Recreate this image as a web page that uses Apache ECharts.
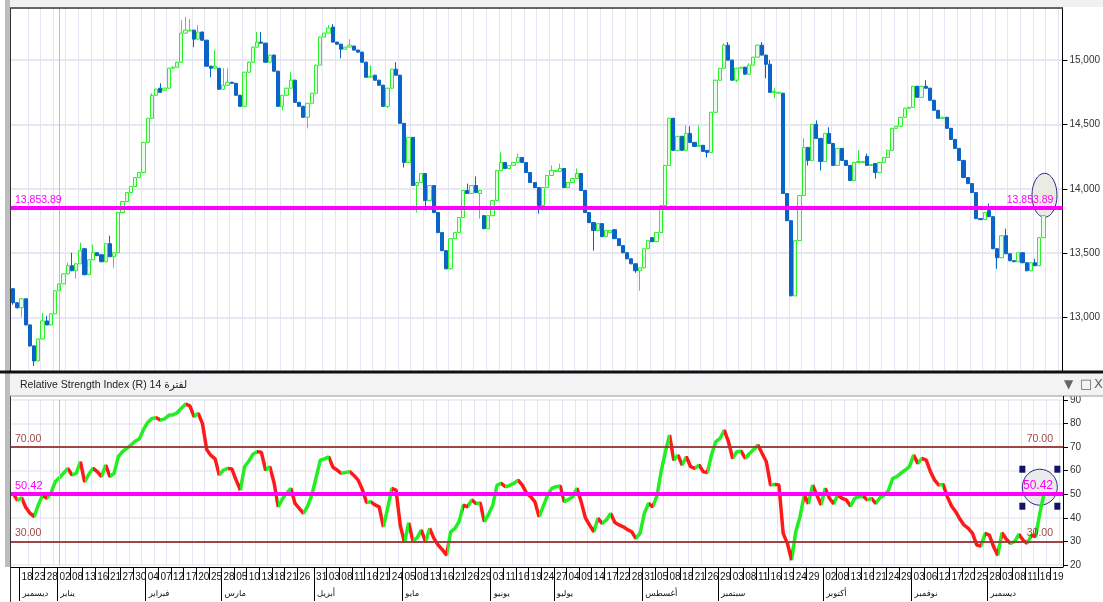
<!DOCTYPE html>
<html><head><meta charset="utf-8">
<script src="https://cdn.jsdelivr.net/npm/echarts@6/dist/echarts.min.js"></script>
<style>html,body{margin:0;padding:0;background:#fff;}#c{width:1103px;height:602px;}</style>
</head><body><div id="c"></div>
<script>
// ---------- data ----------
const opens = [13224,13115,13076,13146,12943,12780,12663,12834,12974,12943,
13029,13208,13262,13340,13403,13364,13418,13535,13333,13449,
13504,13488,13434,13574,13473,13504,13816,13901,13971,14018,
14088,14127,14361,14548,14727,14782,14766,14782,14937,14945,
14984,15210,15226,15233,15163,15218,15155,14953,14937,14937,
14774,14805,14828,14820,14727,14641,14906,14984,15101,15140,
15132,14984,15039,14914,14641,14727,14782,14844,14672,14641,
14556,14665,14743,14961,15179,15210,15257,15140,15124,15085,
15101,15109,15078,15062,14984,14867,14883,14844,14805,14641,
14782,14930,14883,14509,14205,14400,14026,14049,14119,13909,
14026,13816,13660,13520,13379,13613,13660,13777,13987,13964,
14026,13964,13792,13691,13792,13909,14143,14205,14158,14182,
14205,14244,14205,14127,14049,14010,13870,14010,14104,14135,
14135,14158,14010,14049,14080,14119,13987,13816,13738,13676,
13730,13629,13660,13683,13613,13559,13504,13457,13418,13364,
13387,13535,13621,13590,13660,13870,14182,14548,14299,14408,
14299,14431,14361,14330,14338,14299,14283,14595,14844,14937,
15116,15000,14844,14937,14945,14891,14961,15023,15116,15039,
14968,14750,14743,14743,13964,13753,13169,13598,13948,14322,
14221,14501,14392,14213,14431,14353,14182,14314,14221,14182,
14065,14205,14205,14252,14182,14197,14127,14205,14244,14299,
14470,14486,14556,14626,14633,14797,14711,14797,14782,14688,
14610,14548,14556,14470,14384,14314,14221,14088,14041,13971,
13769,13761,13831,13784,13535,13465,13636,13496,13442,13434,
13504,13426,13364,13426,13403,13621];
const closes = [13115,13076,13146,12943,12780,12663,12834,12974,12943,13029,
13208,13262,13340,13403,13364,13418,13520,13333,13449,13504,
13481,13434,13574,13473,13504,13816,13901,13971,14018,14088,
14127,14361,14548,14727,14774,14750,14782,14937,14945,14984,
15210,15233,15233,15163,15218,15155,14953,14937,14953,14774,
14805,14828,14820,14727,14641,14906,14984,15101,15140,15132,
14984,15039,14914,14641,14727,14782,14844,14672,14641,14556,
14665,14743,14961,15179,15210,15249,15140,15124,15085,15101,
15116,15078,15062,14984,14867,14875,14844,14805,14641,14782,
14930,14883,14509,14205,14400,14026,14049,14119,13909,14026,
13816,13660,13520,13379,13613,13660,13777,13987,13964,14026,
13971,13987,13691,13792,13909,14143,14205,14158,14182,14205,
14244,14205,14127,14049,14010,13870,14010,14104,14143,14143,
14158,14010,14049,14080,14119,13987,13816,13738,13676,13730,
13629,13676,13676,13613,13559,13504,13457,13418,13364,13387,
13535,13598,13590,13660,13870,14182,14548,14299,14408,14299,
14431,14361,14330,14338,14291,14283,14595,14844,14937,15116,
15000,14844,14937,14945,14891,14961,15023,15116,15039,14968,
14750,14758,14750,13964,13753,13169,13598,13948,14322,14221,
14501,14392,14213,14431,14353,14182,14314,14221,14182,14065,
14205,14213,14213,14182,14189,14127,14205,14244,14299,14470,
14486,14556,14626,14633,14797,14711,14797,14782,14688,14610,
14548,14556,14470,14384,14314,14221,14088,14041,13971,13769,
13761,13816,13784,13535,13465,13636,13496,13442,13434,13504,
13426,13364,13426,13403,13621,13792];
const lows = [13100,13070,13005,12940,12775,12624,12660,12830,12940,12940,
13025,13205,13260,13335,13360,13301,13415,13330,13330,13445,
13478,13430,13430,13470,13387,13500,13812,13898,13968,14015,
14085,14125,14358,14545,14724,14746,14763,14780,14934,14942,
14980,15205,15222,15101,15160,15152,14950,14867,14934,14770,
14770,14800,14816,14724,14638,14638,14903,14980,15098,15128,
14980,14980,14910,14638,14610,14724,14780,14668,14638,14552,
14470,14662,14740,14958,15175,15206,15136,15120,15015,15082,
15098,15074,15058,14980,14863,14863,14840,14801,14638,14626,
14778,14880,14505,14166,14202,14022,13816,14046,13831,13905,
13812,13656,13516,13375,13375,13610,13656,13774,13960,13960,
13968,13769,13687,13687,13788,13905,14140,14155,14155,14178,
14202,14202,14124,14046,14006,13808,13831,14006,14100,14132,
14132,14006,14006,14046,14076,13983,13812,13734,13520,13672,
13625,13625,13656,13610,13555,13500,13453,13414,13348,13208,
13383,13532,13586,13586,13656,13866,14178,14295,14295,14295,
14295,14357,14326,14326,14287,14244,14280,14592,14840,14934,
14996,14840,14828,14934,14887,14887,14958,15020,15035,14859,
14746,14704,14740,13960,13749,13165,13165,13594,13944,14182,
14217,14388,14143,14210,14349,14178,14178,14217,14178,14061,
14061,14202,14202,14178,14178,14080,14124,14202,14240,14295,
14466,14482,14552,14622,14630,14708,14708,14778,14684,14606,
14544,14544,14466,14380,14310,14217,14084,14037,13967,13765,
13757,13757,13780,13531,13379,13461,13492,13438,13430,13430,
13422,13360,13360,13399,13399,13617];
const highs = [13230,13120,13150,13150,12945,12785,12840,13037,13013,13035,
13210,13286,13345,13426,13504,13420,13582,13540,13450,13566,
13506,13490,13578,13636,13506,13820,13905,13975,14020,14092,
14130,14365,14552,14743,14778,14820,14785,14940,14950,14988,
15311,15335,15320,15236,15272,15222,15158,14956,15078,14940,
14937,14937,14832,14823,14730,14910,14988,15105,15218,15218,
15135,15043,15043,14918,14730,14785,14906,14848,14675,14645,
14668,14746,14965,15183,15214,15272,15280,15143,15128,15104,
15163,15112,15082,15066,14988,14961,14886,14848,14808,14785,
14933,14984,14886,14512,14403,14403,14052,14122,14122,14030,
14030,13820,13664,13524,13616,13664,13780,13990,14041,14030,
14096,13990,13796,13796,13912,14146,14283,14208,14185,14208,
14275,14248,14208,14130,14052,14014,14014,14108,14182,14146,
14197,14162,14052,14084,14158,14122,13990,13820,13742,13734,
13734,13680,13680,13687,13616,13562,13508,13460,13421,13390,
13538,13602,13624,13664,13874,14185,14552,14552,14412,14412,
14493,14486,14364,14493,14342,14302,14598,14848,14940,15132,
15140,15004,14940,14948,14948,14976,15026,15120,15140,15043,
15000,14782,14754,14746,13968,13757,13602,13952,14392,14326,
14505,14532,14396,14435,14478,14357,14318,14318,14225,14185,
14208,14299,14216,14275,14193,14200,14208,14248,14302,14474,
14490,14560,14630,14637,14800,14800,14800,14844,14785,14692,
14614,14560,14560,14474,14388,14318,14225,14092,14045,13975,
13773,13820,13886,13788,13539,13640,13691,13500,13446,13508,
13508,13430,13430,13457,13625,13796];
const rsi = [50.4,47.5,48.5,44.5,42,40.5,45.5,49.7,48.3,50.5,
55.3,57,59,61,58.2,58.9,63.8,55.3,58.5,61,
59.6,57.5,62.4,57.5,58.9,66,68.1,69.5,70.9,72.5,
73.5,77.5,80.5,82.2,82.5,81.5,82,83.5,83.7,84.6,
86.5,88.3,87.5,83,84.3,80,69,66.5,65,58.2,
60.3,61,60.7,56,51.8,61.7,64,67,68.1,67.8,
60.3,61.7,55,44.7,48,50.5,52.5,46.1,44,41.9,
45,49.7,57,64.5,65,65.9,61.5,60.3,58.9,59.3,
59.6,58,56,52,46.5,46.8,45.5,44.7,36.2,44,
52.5,51.8,36.9,29.5,37.9,30.3,31.5,34.8,29.9,35.5,
31.3,28.5,26.5,24.2,34.1,35.5,38.5,45.4,44.7,47.6,
46.1,46.3,38.4,41.5,45.4,53.9,54.6,53.2,53.8,54.6,
56,53.9,50.5,49,46.8,40.5,45,49.5,52.5,53.2,
53.5,46.8,47.8,49,52.5,46.8,40,36.9,34.1,39.8,
37.7,39.1,41.9,38,37,36.2,35,34.1,31.3,33.4,
41.9,46.1,44.7,49.2,59.6,68,75.1,64.5,66.6,62.4,
65.9,61.7,61,62.4,59.6,59.2,67,72.3,73.7,77.2,
72.3,65.2,68.1,68.3,65.2,67.3,69,70.9,67.3,63.8,
53.9,54.2,53.9,33.4,29.2,22.1,34.1,40.5,49.7,46,
53.9,49.7,45.5,52.5,48.3,46,49.7,48.3,47.6,45,
48.3,49,49.2,47.6,48.3,46.1,48.5,49.7,51.5,56.7,
57.5,59,60.3,61.7,66.6,63.1,65.2,64.5,59.6,56,
53.9,54.2,49,45,42.6,39.5,36.9,35.5,33.4,28.5,
28,33.4,32.7,27.8,24.2,33.7,31,29.2,29.9,33,
30.6,29.2,32.7,32,42,50.42];
const dayLabels = ['18','23','28','02','08','13','16','21','27','30','04','07','12','17','20','25','28','05','10','13','18','21','26','31','03','08','11','16','21','24','05','08','13','16','21','26','29','03','11','16','19','24','27','04','09','14','17','22','28','31','05','08','18','21','26','29','03','08','11','16','19','24','29','02','08','13','16','21','24','29','03','06','12','17','20','25','28','03','08','11','16','19'];
const monthNames = ['ديسمبر','يناير','فبراير','مارس','أبريل','مايو','يونيو','يوليو','أغسطس','سبتمبر','أكتوبر','نوفمبر','ديسمبر'];
const monthAtLabel = [0,3,10,16,23,30,37,42,49,55,63,70,76];
const priceTicks = [13000,13500,14000,14500,15000];
const rsiMin = 20, rsiMax = 90, rsiStep = 10;
const pivotPrice = 13853.89;
const pivotRsi = 50.42;
const rsiHigh = 70, rsiLow = 30;

// ---------- layout helpers ----------
const N = closes.length;
const M = N + 4;                          // empty slots on the right
const cats = Array.from({length: M}, (_, i) => String(i));
const bounds = Array.from({length: M + 1}, (_, i) => String(i));   // band boundaries
const candleData = closes.map((c, i) => [opens[i], c, lows[i], highs[i]]);
const labelCat = dayLabels.map((_, k) => Math.round(1.93 + 3.025 * k));
const labelMap = {}; labelCat.forEach((c, k) => { labelMap[c] = dayLabels[k]; });
const monthMap = {}; monthAtLabel.forEach((k, m) => { monthMap[labelCat[k]] = monthNames[m]; });
const gridCat = new Set(labelCat.map(c => c + 2));
const yearCat = labelCat[3];

const GREEN = '#22ee22', RED = '#ff1a1a', MAG = '#ff00ff';
const pieces = [];
let start = 0, dir = rsi[1] >= rsi[0];
for (let i = 1; i < rsi.length - 1; i++) {
  const d = rsi[i + 1] >= rsi[i];
  if (d !== dir) { pieces.push({gte: start, lt: i, color: dir ? GREEN : RED}); start = i; dir = d; }
}
pieces.push({gte: start, lte: M, color: dir ? GREEN : RED});

const FONT = "'Liberation Sans',Arial,sans-serif";
const fmt2 = v => v.toLocaleString('en-US', {minimumFractionDigits: 2, maximumFractionDigits: 2});
const isLabel = (i) => Object.prototype.hasOwnProperty.call(labelMap, i);
const isMonth = (i) => Object.prototype.hasOwnProperty.call(monthMap, i);

const gridLine = {show: true, interval: (i) => gridCat.has(i), lineStyle: {color: '#e4e4f3', width: 1}};
const hidden = {show: false};

const chart = echarts.init(document.getElementById('c'));
const option = {
  animation: false,
  backgroundColor: '#ffffff',
  grid: [
    {left: 11, right: 40, top: 8, height: 363},
    {left: 11, right: 40, top: 400, height: 165}
  ],
  xAxis: [
    {gridIndex: 0, type: 'category', position: 'bottom', data: cats, boundaryGap: true,
     axisLine: hidden, axisTick: hidden, axisLabel: hidden, splitLine: gridLine},
    // day labels
    {gridIndex: 1, type: 'category', position: 'bottom', data: cats, boundaryGap: true, offset: 2,
     axisLine: {show: true, lineStyle: {color: '#000', width: 1}},
     axisTick: hidden,
     axisLabel: {interval: (i) => isLabel(i), align: 'left', margin: 5,
       formatter: (v) => labelMap[Number(v)], fontSize: 10, fontFamily: FONT, color: '#111'},
     splitLine: gridLine},
    // short ticks on band boundaries
    {gridIndex: 1, type: 'category', position: 'bottom', data: bounds, boundaryGap: false, offset: 2,
     axisLine: hidden, axisLabel: hidden,
     axisTick: {show: true, interval: (i) => isLabel(i), length: 13, lineStyle: {color: '#000'}}},
    // month separators + month names
    {gridIndex: 1, type: 'category', position: 'bottom', data: bounds, boundaryGap: false, offset: 2,
     axisLine: hidden,
     axisTick: {show: true, interval: (i) => isMonth(i), length: 34, lineStyle: {color: '#000'}},
     axisLabel: {interval: (i) => isMonth(i), align: 'left', margin: 22, padding: [0, 0, 0, 3],
       formatter: (v) => monthMap[Number(v)], fontSize: 8.5, fontFamily: 'DejaVu Sans', color: '#111'}}
  ],
  yAxis: [
    {gridIndex: 0, type: 'value', position: 'right', min: 12585, max: 15405, scale: true,
     axisLine: {show: true, lineStyle: {color: '#000'}},
     axisTick: {show: true, length: 5, customValues: priceTicks, lineStyle: {color: '#000'}},
     axisLabel: {customValues: priceTicks, margin: 7, color: '#333', fontSize: 10, fontFamily: FONT},
     splitLine: {show: true, lineStyle: {color: '#e8e8f5', width: 2}}},
    {gridIndex: 1, type: 'value', position: 'right', min: rsiMin, max: rsiMax, interval: rsiStep,
     axisLine: {show: true, lineStyle: {color: '#000'}},
     axisTick: {show: true, length: 5, lineStyle: {color: '#000'}},
     axisLabel: {margin: 7, color: '#333', fontSize: 10, fontFamily: FONT},
     splitLine: {show: true, lineStyle: {color: '#e8e8f5', width: 1.5}}}
  ],
  visualMap: [{type: 'piecewise', show: false, seriesIndex: 1, dimension: 0, pieces: pieces, outOfRange: {color: GREEN}}],
  series: [
    {type: 'candlestick', xAxisIndex: 0, yAxisIndex: 0, data: candleData, barWidth: '88%', z: 3,
     itemStyle: {color: '#e6ffe6', color0: '#0a64c8', borderColor: '#2af02a', borderColor0: '#0a64c8', borderWidth: 1},
     markLine: {symbol: 'none', silent: true, animation: false,
       data: [
         {xAxis: yearCat, lineStyle: {color: '#f4b26c', width: 1, type: 'solid'}, label: {show: false}},
         {yAxis: pivotPrice, lineStyle: {color: MAG, width: 4, type: 'solid'},
          label: {show: true, position: 'insideStartTop', formatter: fmt2(pivotPrice), color: MAG, fontSize: 10.5, fontFamily: FONT, distance: [4, 2]}},
         {yAxis: pivotPrice, lineStyle: {color: MAG, width: 4, type: 'solid'},
          label: {show: true, position: 'insideEndTop', formatter: fmt2(pivotPrice), color: MAG, fontSize: 10.5, fontFamily: FONT, distance: [9, 2]}}
       ]}},
    {type: 'line', xAxisIndex: 1, yAxisIndex: 1, data: rsi, showSymbol: false, z: 4,
     lineStyle: {width: 3.5}},
    {type: 'line', xAxisIndex: 1, yAxisIndex: 1, data: [], z: 2,
     markLine: {symbol: 'none', silent: true, animation: false,
       data: [
         {xAxis: yearCat, lineStyle: {color: '#f4b26c', width: 1, type: 'solid'}, label: {show: false}},
         {yAxis: rsiHigh, lineStyle: {color: '#9b3a3a', width: 1.5, type: 'solid'},
          label: {show: true, position: 'insideStartTop', formatter: fmt2(rsiHigh), color: '#a04848', fontSize: 10.5, fontFamily: FONT, distance: [4, 3]}},
         {yAxis: rsiHigh, lineStyle: {color: '#9b3a3a', width: 1.5, type: 'solid'},
          label: {show: true, position: 'insideEndTop', formatter: fmt2(rsiHigh), color: '#a04848', fontSize: 10.5, fontFamily: FONT, distance: [10, 3]}},
         {yAxis: rsiLow, lineStyle: {color: '#9b3a3a', width: 1.5, type: 'solid'},
          label: {show: true, position: 'insideStartTop', formatter: fmt2(rsiLow), color: '#a04848', fontSize: 10.5, fontFamily: FONT, distance: [4, 3]}},
         {yAxis: rsiLow, lineStyle: {color: '#9b3a3a', width: 1.5, type: 'solid'},
          label: {show: true, position: 'insideEndTop', formatter: fmt2(rsiLow), color: '#a04848', fontSize: 10.5, fontFamily: FONT, distance: [10, 3]}},
         {yAxis: pivotRsi, lineStyle: {color: MAG, width: 4, type: 'solid'},
          label: {show: true, position: 'insideStartTop', formatter: fmt2(pivotRsi), color: MAG, fontSize: 11, fontFamily: FONT, distance: [4, 2]}},
         {yAxis: pivotRsi, lineStyle: {color: MAG, width: 4, type: 'solid'},
          label: {show: true, position: 'insideEndTop', formatter: fmt2(pivotRsi), color: MAG, fontSize: 12, fontFamily: FONT, distance: [10, 2]}}
       ]}}
  ]
};
chart.setOption(option);

// ---------- decorations (frames, header, annotation ellipses) ----------
const eTop = chart.convertToPixel({gridIndex: 0}, [N - 1, 13950]);
const eRsi = chart.convertToPixel({gridIndex: 1}, [N - 2, 53]);
const sq = (x, y) => ({type: 'rect', z: 5, shape: {x: x - 3, y: y - 3, width: 6, height: 7}, style: {fill: '#141466'}});
chart.setOption({graphic: [
  {type: 'rect', z: 0, shape: {x: 10, y: 0, width: 1093, height: 7}, style: {fill: '#f1f1f1'}},
  {type: 'rect', z: 0, shape: {x: 5, y: 0, width: 5, height: 567}, style: {fill: '#bdbdbd'}},
  {type: 'line', z: 10, shape: {x1: 10, y1: 8, x2: 1063, y2: 8}, style: {stroke: '#333', lineWidth: 1.5}},
  {type: 'line', z: 10, shape: {x1: 10.5, y1: 8, x2: 10.5, y2: 602}, style: {stroke: '#333', lineWidth: 1}},
  {type: 'rect', z: 10, shape: {x: 10, y: 373, width: 1093, height: 23}, style: {fill: '#f2f3f5'}},
  {type: 'line', z: 11, shape: {x1: 0, y1: 372, x2: 1103, y2: 372}, style: {stroke: '#111', lineWidth: 3}},
  {type: 'line', z: 11, shape: {x1: 10, y1: 396, x2: 1103, y2: 396}, style: {stroke: '#9a9a9a', lineWidth: 1}},
  {type: 'line', z: 11, shape: {x1: 1063.5, y1: 396, x2: 1063.5, y2: 567}, style: {stroke: '#000', lineWidth: 1}},
  {type: 'text', z: 12, x: 20, y: 385, style: {text: 'Relative Strength Index (R) 14 لفترة', fill: '#222', font: "10.5px 'Liberation Sans','DejaVu Sans',sans-serif", verticalAlign: 'middle'}},
  {type: 'text', z: 12, x: 1064, y: 385, style: {text: '▼', fill: '#666', font: "12px 'DejaVu Sans'", verticalAlign: 'middle'}},
  {type: 'text', z: 12, x: 1080, y: 385, style: {text: '□', fill: '#666', font: "13px 'DejaVu Sans'", verticalAlign: 'middle'}},
  {type: 'text', z: 12, x: 1094, y: 385, style: {text: 'X', fill: '#666', font: "13px 'DejaVu Sans'", verticalAlign: 'middle'}},
  {type: 'ellipse', z: 1, shape: {cx: eTop[0] + 1, cy: eTop[1], rx: 12.5, ry: 22}, style: {fill: '#ecebe3', stroke: '#2b2b88', lineWidth: 1}},
  {type: 'ellipse', z: 1, shape: {cx: eRsi[0], cy: eRsi[1], rx: 17.5, ry: 18}, style: {fill: '#ebebeb', stroke: '#2b2b88', lineWidth: 1}},
  sq(eRsi[0] - 17.5, eRsi[1] - 18.5), sq(eRsi[0] + 17.5, eRsi[1] - 18.5),
  sq(eRsi[0] - 17.5, eRsi[1] + 18.5), sq(eRsi[0] + 17.5, eRsi[1] + 18.5)
]});
</script>
</body></html>
